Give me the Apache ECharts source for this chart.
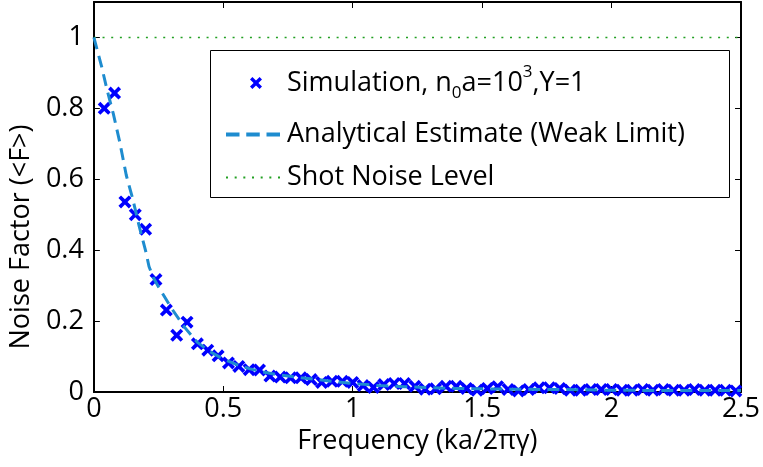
<!DOCTYPE html>
<html>
<head>
<meta charset="utf-8">
<script src="https://cdn.jsdelivr.net/npm/echarts@6/dist/echarts.min.js"></script>
<style>
html, body { margin: 0; padding: 0; background: #fff; }
#chart { width: 763px; height: 467px; }
</style>
</head>
<body>
<div id="chart"></div>
<script>
// Simulated noise factor at each frequency bin
const simFreq = [
  0.04, 0.08, 0.12, 0.16, 0.20, 0.24, 0.28, 0.32, 0.36, 0.40,
  0.44, 0.48, 0.52, 0.56, 0.60, 0.64, 0.68, 0.72, 0.76, 0.80,
  0.84, 0.88, 0.92, 0.96, 1.00, 1.04, 1.08, 1.12, 1.16, 1.20,
  1.24, 1.28, 1.32, 1.36, 1.40, 1.44, 1.48, 1.52, 1.56, 1.60,
  1.64, 1.68, 1.72, 1.76, 1.80, 1.84, 1.88, 1.92, 1.96, 2.00,
  2.04, 2.08, 2.12, 2.16, 2.20, 2.24, 2.28, 2.32, 2.36, 2.40,
  2.44, 2.48
];
const simNoise = [
  0.800, 0.843, 0.536, 0.500, 0.459, 0.317, 0.231, 0.160, 0.197, 0.136,
  0.118, 0.102, 0.082, 0.072, 0.063, 0.062, 0.045, 0.042, 0.040, 0.040,
  0.035, 0.027, 0.030, 0.030, 0.027, 0.018, 0.013, 0.021, 0.024, 0.024,
  0.016, 0.008, 0.009, 0.016, 0.016, 0.010, 0.005, 0.010, 0.015, 0.007,
  0.003, 0.007, 0.012, 0.012, 0.010, 0.005, 0.005, 0.007, 0.007, 0.007,
  0.005, 0.005, 0.007, 0.005, 0.007, 0.005, 0.005, 0.007, 0.005, 0.005,
  0.005, 0.003
];

// Analytical estimate (weak limit)
const estFreq = [
  0, 0.03, 0.05, 0.075, 0.10, 0.125, 0.15, 0.175, 0.20, 0.213,
  0.23, 0.25, 0.30, 0.35, 0.40, 0.45, 0.50, 0.55, 0.60, 0.65,
  0.70, 0.80, 0.90, 1.00, 1.10, 1.20, 1.30, 1.40, 1.50, 1.60,
  1.80, 2.00, 2.25, 2.50
];
const estNoise = [
  1.000, 0.918, 0.855, 0.785, 0.705, 0.612, 0.545, 0.468, 0.398, 0.354,
  0.322, 0.296, 0.236, 0.183, 0.140, 0.113, 0.093, 0.078, 0.066, 0.057,
  0.050, 0.040, 0.032, 0.024, 0.018, 0.015, 0.012, 0.010, 0.009, 0.008,
  0.007, 0.005, 0.004, 0.004
];

// Shot noise reference level
const shotFreq = [0, 2.5];
const shotNoise = [1, 1];

const FONT = 'Open Sans';
const FS = 27;
const BLUE = '#0000ff';
const TEAL = '#1e8ccf';
const GREEN = '#22a022';

// bold "x" marker
const crossPath = 'path://M0,2.4 L2.4,0 L6,3.6 L9.6,0 L12,2.4 L8.4,6 L12,9.6 L9.6,12 L6,8.4 L2.4,12 L0,9.6 L3.6,6 Z';
// legend swatches: three dashes, and a row of dots
const dashIcon = 'path://M0,0 H13.5 V4 H0 Z M20.25,0 H33.75 V4 H20.25 Z M40.5,0 H54 V4 H40.5 Z';
const dotIcon = 'path://M0,0 H2 V2 H0 Z M8.67,0 H10.67 V2 H8.67 Z M17.33,0 H19.33 V2 H17.33 Z M26,0 H28 V2 H26 Z M34.67,0 H36.67 V2 H34.67 Z M43.33,0 H45.33 V2 H43.33 Z M52,0 H54 V2 H52 Z';

const zip = (xs, ys) => xs.map((x, i) => [x, ys[i]]);

const baseText = { fontFamily: FONT, fontSize: FS, color: '#000' };

const chart = echarts.init(document.getElementById('chart'), null, { renderer: 'canvas' });

const frameAxis = {
  axisLine: { onZero: false, lineStyle: { color: '#000', width: 2 } },
  axisTick: { inside: true, length: 6, lineStyle: { color: '#000', width: 1 } },
  splitLine: { show: false }
};

chart.setOption({
  backgroundColor: '#fff',
  animation: false,
  grid: { left: 92, right: 20, top: 2, bottom: 75 },
  xAxis: [
    Object.assign({
      type: 'value', min: 0, max: 2.5, interval: 0.5,
      axisLabel: Object.assign({ margin: 4 }, baseText),
      name: 'Frequency (ka/2πγ)', nameLocation: 'middle', nameGap: 32,
      nameTextStyle: baseText
    }, frameAxis),
    Object.assign({
      type: 'value', min: 0, max: 2.5, interval: 0.5, position: 'top',
      axisLabel: { show: false }
    }, frameAxis)
  ],
  yAxis: [
    Object.assign({
      type: 'value', min: 0, max: 1.1, interval: 0.2,
      axisLabel: Object.assign({
        margin: 10,
        formatter: v => (v > 1.05 ? '' : String(+v.toFixed(1)))
      }, baseText),
      name: 'Noise Factor (<F>)', nameLocation: 'middle', nameGap: 57,
      nameTextStyle: Object.assign({ padding: [0, 80, 0, 0] }, baseText)
    }, frameAxis),
    Object.assign({
      type: 'value', min: 0, max: 1.1, interval: 0.2, position: 'right',
      axisLabel: { show: false }
    }, frameAxis)
  ],
  graphic: [{
    type: 'rect',
    shape: { x: 210.5, y: 50.5, width: 519, height: 147 },
    style: { fill: '#fff', stroke: '#000', lineWidth: 1 },
    z: 50
  }],
  legend: [
    {
      data: ['Simulation'], left: 245, top: 59, z: 60,
      itemWidth: 12, itemHeight: 12, itemGap: 0,
      formatter: () => '{t|Simulation, n}{s|0}{t|a=10}{p|3}{t|,Y=1}',
      textStyle: {
        padding: [0, 0, 0, 20],
        rich: {
          t: { fontFamily: FONT, fontSize: FS, color: '#000', lineHeight: 38 },
          s: { fontFamily: FONT, fontSize: 17, color: '#000', lineHeight: 38, verticalAlign: 'bottom' },
          p: { fontFamily: FONT, fontSize: 17, color: '#000', lineHeight: 38, verticalAlign: 'top' }
        }
      }
    },
    {
      data: [{ name: 'Analytical Estimate (Weak Limit)', icon: dashIcon }],
      left: 221, top: 116, z: 60,
      itemWidth: 54, itemHeight: 4,
      textStyle: Object.assign({ padding: [0, 0, 0, 2] }, baseText)
    },
    {
      data: [{ name: 'Shot Noise Level', icon: dotIcon }],
      left: 221, top: 159, z: 60,
      itemWidth: 54, itemHeight: 2,
      textStyle: Object.assign({ padding: [0, 0, 0, 2] }, baseText)
    }
  ],
  series: [
    {
      name: 'Shot Noise Level', type: 'line',
      data: zip(shotFreq, shotNoise),
      symbol: 'none', z: 2,
      lineStyle: { color: GREEN, width: 1.5, type: [2, 6.67] },
      itemStyle: { color: GREEN }
    },
    {
      name: 'Analytical Estimate (Weak Limit)', type: 'line',
      data: zip(estFreq, estNoise),
      symbol: 'none', z: 4,
      lineStyle: { color: TEAL, width: 3, type: [12, 7] },
      itemStyle: { color: TEAL }
    },
    {
      name: 'Simulation', type: 'scatter',
      data: zip(simFreq, simNoise),
      symbol: crossPath, symbolSize: 13, z: 3,
      itemStyle: { color: BLUE, opacity: 1 }
    }
  ]
});
</script>
</body>
</html>
